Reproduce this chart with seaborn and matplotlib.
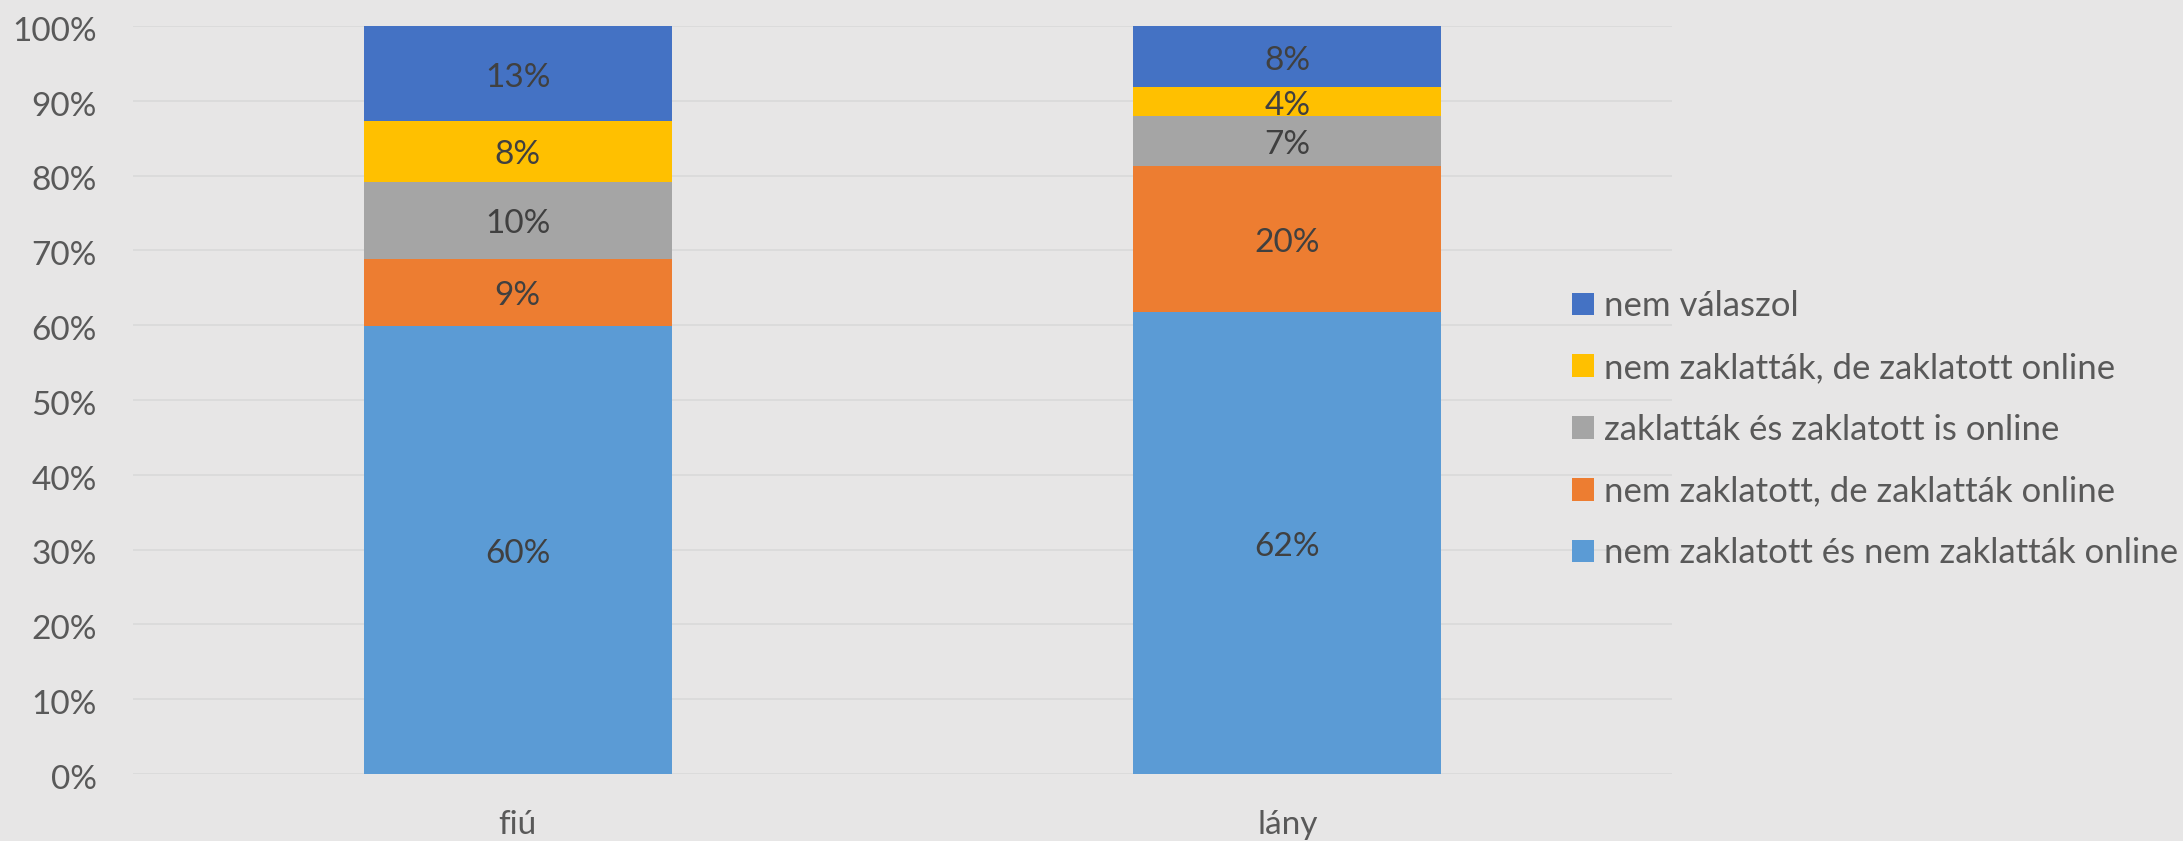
import matplotlib
matplotlib.use("Agg")
import matplotlib.pyplot as plt
import matplotlib.transforms as mtransforms
import seaborn as sns
import pandas as pd
import numpy as np
from matplotlib.patches import Patch

categories = ["fiú", "lány"]
series_names = [
    "nem zaklatott és nem zaklatták online",
    "nem zaklatott, de zaklatták online",
    "zaklatták és zaklatott is online",
    "nem zaklatták, de zaklatott online",
    "nem válaszol",
]
fiu_values = [59.9, 9.0, 10.3, 8.1, 12.7]
lany_values = [61.7, 19.6, 6.7, 3.8, 8.2]
colors = ["#5B9BD5", "#ED7D31", "#A5A5A5", "#FFC000", "#4472C4"]
yticks = [0, 10, 20, 30, 40, 50, 60, 70, 80, 90, 100]

sns.set_theme(style="white")
plt.rcParams["font.family"] = ["Lato", "DejaVu Sans"]

BG = "#E7E6E6"
fig = plt.figure(figsize=(21.83, 8.41), dpi=100, facecolor=BG)
ax = fig.add_axes([0.0609, 0.0797, 0.7051, 0.8894])
ax.set_facecolor(BG)

vals = np.array([fiu_values, lany_values])  # shape (cat, series)
cum = np.cumsum(vals, axis=1)

# draw from top series down so each cumulative bar is overlaid
for i in range(len(series_names) - 1, -1, -1):
    df = pd.DataFrame({"cat": categories, "val": cum[:, i]})
    sns.barplot(data=df, x="cat", y="val", color=colors[i], width=0.4,
                saturation=1, linewidth=0, ax=ax, zorder=2, order=categories)

# data labels at segment centers (slightly lowered like the original)
down = mtransforms.ScaledTranslation(0, -3 / 72, fig.dpi_scale_trans)
for c in range(len(categories)):
    for i in range(len(series_names)):
        bottom = cum[c, i] - vals[c, i]
        ax.text(c, bottom + vals[c, i] / 2, f"{int(round(vals[c, i]))}%",
                ha="center", va="center", fontsize=24, color="#404040", zorder=3,
                transform=ax.transData + down)

ax.set_xlim(-0.5, 1.5)
ax.set_ylim(0, 100)
ax.set_yticks(yticks)
ax.set_yticklabels([f"{t}%" for t in yticks])
ax.set_xlabel("")
ax.set_ylabel("")
ax.yaxis.grid(True, color="#D9D9D9", linewidth=1.2, zorder=0)
ax.set_axisbelow(True)
for s in ax.spines.values():
    s.set_visible(False)
ax.tick_params(axis="y", length=0, pad=26, labelsize=24, labelcolor="#595959")
ax.tick_params(axis="x", length=0, pad=26, labelsize=24, labelcolor="#595959")
ydown = mtransforms.ScaledTranslation(0, -2 / 72, fig.dpi_scale_trans)
for lbl in ax.get_yticklabels():
    lbl.set_transform(lbl.get_transform() + ydown)

legend_handles = [Patch(facecolor=colors[i], edgecolor="none") for i in range(len(series_names) - 1, -1, -1)]
legend_labels = [series_names[i] for i in range(len(series_names) - 1, -1, -1)]
leg = fig.legend(legend_handles, legend_labels, loc="upper left",
                 bbox_to_anchor=(1572 / 2183, 1 - 290 / 841),
                 frameon=False, fontsize=25, handlelength=0.62, handleheight=0.62,
                 handletextpad=0.3, labelspacing=0.86, borderaxespad=0, borderpad=0,
                 labelcolor="#595959")

fig.savefig("out.png", dpi=100, facecolor=BG)
